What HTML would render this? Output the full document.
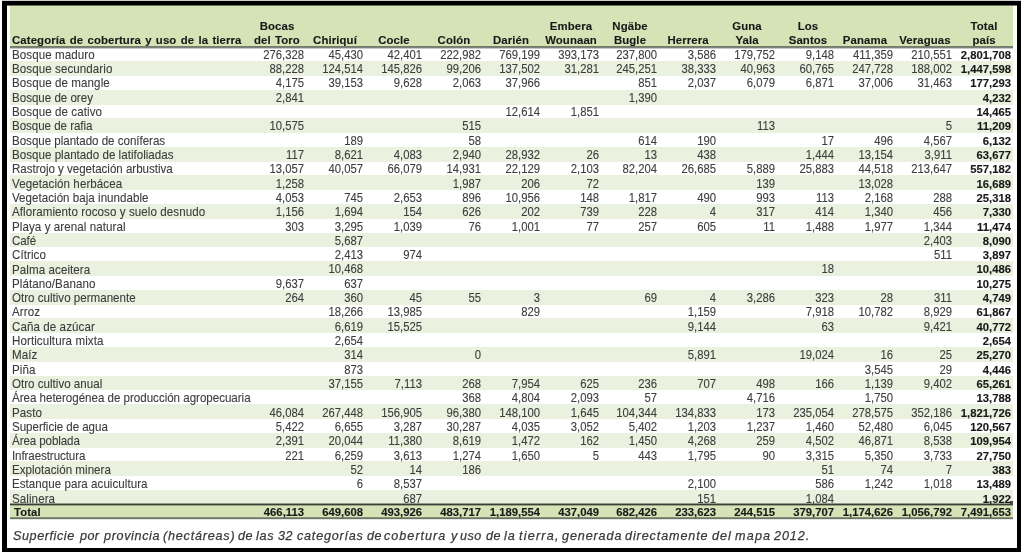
<!DOCTYPE html><html><head><meta charset="utf-8"><style>
html,body{margin:0;padding:0;background:#fff;}
body{width:1022px;height:552px;position:relative;overflow:hidden;font-family:"Liberation Sans",sans-serif;}
.a{position:absolute;}
.t{position:absolute;white-space:pre;will-change:transform;}
.r{color:#3d3d3d;-webkit-text-stroke:0.1px #3d3d3d;transform-origin:0 10.23px;transform:scaleY(1.06);}
.b{font-weight:bold;color:#181818;-webkit-text-stroke:0.12px #181818;transform-origin:0 10.32px;transform:scaleY(1.03);}
.R{width:200px;text-align:right;}
.C{width:200px;text-align:center;}
.h{word-spacing:1.0px;letter-spacing:0.1px;}
.L{letter-spacing:0.17px;}
</style></head><body>
<div class="a" style="left:2px;top:0;width:1019px;height:1px;background:#cfcfcf"></div>
<div class="a" style="left:2px;top:1px;width:1019px;height:4px;background:#000"></div>
<div class="a" style="left:7px;top:5px;width:1010px;height:1px;background:#6a7060"></div>
<div class="a" style="left:2px;top:1px;width:5px;height:551px;background:#000"></div>
<div class="a" style="left:1017px;top:1px;width:4px;height:551px;background:#000"></div>
<div class="a" style="left:2px;top:548px;width:1019px;height:4px;background:#000"></div>
<div class="a" style="left:10px;top:6px;width:1003.1px;height:41px;background:#d5e3b6"></div>
<div class="a" style="left:10px;top:61.14px;width:1003.1px;height:14.84px;background:#eaf1de"></div>
<div class="a" style="left:10px;top:89.72px;width:1003.1px;height:14.84px;background:#eaf1de"></div>
<div class="a" style="left:10px;top:118.30px;width:1003.1px;height:14.84px;background:#eaf1de"></div>
<div class="a" style="left:10px;top:146.88px;width:1003.1px;height:14.84px;background:#eaf1de"></div>
<div class="a" style="left:10px;top:175.46px;width:1003.1px;height:14.84px;background:#eaf1de"></div>
<div class="a" style="left:10px;top:204.04px;width:1003.1px;height:14.84px;background:#eaf1de"></div>
<div class="a" style="left:10px;top:232.62px;width:1003.1px;height:14.84px;background:#eaf1de"></div>
<div class="a" style="left:10px;top:261.20px;width:1003.1px;height:14.84px;background:#eaf1de"></div>
<div class="a" style="left:10px;top:289.78px;width:1003.1px;height:14.84px;background:#eaf1de"></div>
<div class="a" style="left:10px;top:318.36px;width:1003.1px;height:14.84px;background:#eaf1de"></div>
<div class="a" style="left:10px;top:346.94px;width:1003.1px;height:14.84px;background:#eaf1de"></div>
<div class="a" style="left:10px;top:375.52px;width:1003.1px;height:14.84px;background:#eaf1de"></div>
<div class="a" style="left:10px;top:404.10px;width:1003.1px;height:14.84px;background:#eaf1de"></div>
<div class="a" style="left:10px;top:432.68px;width:1003.1px;height:14.84px;background:#eaf1de"></div>
<div class="a" style="left:10px;top:461.26px;width:1003.1px;height:14.84px;background:#eaf1de"></div>
<div class="a" style="left:10px;top:489.84px;width:1003.1px;height:14.84px;background:#eaf1de"></div>
<div class="a" style="left:10px;top:46px;width:1003.1px;height:1px;background:#737c66"></div>
<div class="a" style="left:10px;top:47px;width:1003.1px;height:1px;background:#7e807a"></div>
<div class="a" style="left:10px;top:48px;width:1003.1px;height:0.5px;background:#c8c8c8"></div>
<div class="a" style="left:10px;top:505px;width:1003.1px;height:13.3px;background:#d5e3b6"></div>
<div class="a" style="left:10px;top:503px;width:1003.1px;height:1px;background:#959a8a"></div>
<div class="a" style="left:10px;top:504px;width:1003.1px;height:1px;background:#3a3f35"></div>
<div class="a" style="left:10px;top:505px;width:1003.1px;height:1px;background:#9aa487"></div>
<div class="a" style="left:10px;top:517px;width:1003.1px;height:1px;background:#88917a"></div>
<div class="a" style="left:10px;top:518px;width:1003.1px;height:1px;background:#6e7364"></div>
<div class="a" style="left:10px;top:519px;width:1003.1px;height:1px;background:#e4e4e2"></div>
<div class="a" style="left:1009.6px;top:500.6px;width:3.4px;height:4px;background:#4a4a4a"></div>
<div class="t b h" style="left:12.30px;top:34.28px;font-size:11.4px;line-height:13.099px;">Categoría de cobertura y uso de la tierra</div>
<div class="t b h C" style="left:177.30px;top:19.98px;font-size:11.4px;line-height:13.099px;">Bocas</div>
<div class="t b h C" style="left:177.30px;top:34.28px;font-size:11.4px;line-height:13.099px;">del Toro</div>
<div class="t b h C" style="left:234.76px;top:34.28px;font-size:11.4px;line-height:13.099px;">Chiriquí</div>
<div class="t b h C" style="left:293.92px;top:34.28px;font-size:11.4px;line-height:13.099px;">Cocle</div>
<div class="t b h C" style="left:353.88px;top:34.28px;font-size:11.4px;line-height:13.099px;">Colón</div>
<div class="t b h C" style="left:411.44px;top:34.28px;font-size:11.4px;line-height:13.099px;">Darién</div>
<div class="t b h C" style="left:471.00px;top:19.98px;font-size:11.4px;line-height:13.099px;">Embera</div>
<div class="t b h C" style="left:471.00px;top:34.28px;font-size:11.4px;line-height:13.099px;">Wounaan</div>
<div class="t b h C" style="left:529.86px;top:19.98px;font-size:11.4px;line-height:13.099px;">Ngäbe</div>
<div class="t b h C" style="left:529.86px;top:34.28px;font-size:11.4px;line-height:13.099px;">Bugle</div>
<div class="t b h C" style="left:587.52px;top:34.28px;font-size:11.4px;line-height:13.099px;">Herrera</div>
<div class="t b h C" style="left:646.78px;top:19.98px;font-size:11.4px;line-height:13.099px;">Guna</div>
<div class="t b h C" style="left:646.78px;top:34.28px;font-size:11.4px;line-height:13.099px;">Yala</div>
<div class="t b h C" style="left:707.74px;top:19.98px;font-size:11.4px;line-height:13.099px;">Los</div>
<div class="t b h C" style="left:707.74px;top:34.28px;font-size:11.4px;line-height:13.099px;">Santos</div>
<div class="t b h C" style="left:764.60px;top:34.28px;font-size:11.4px;line-height:13.099px;">Panama</div>
<div class="t b h C" style="left:824.96px;top:34.28px;font-size:11.4px;line-height:13.099px;">Veraguas</div>
<div class="t b h C" style="left:883.72px;top:19.98px;font-size:11.4px;line-height:13.099px;">Total</div>
<div class="t b h C" style="left:883.72px;top:34.28px;font-size:11.4px;line-height:13.099px;">país</div>
<div class="t r" style="left:12.30px;top:47.70px;font-size:11.6px;line-height:13.328px;letter-spacing:0.070px;transform:scaleY(1.03)">Bosque maduro</div>
<div class="t r R" style="left:104.30px;top:48.67px;font-size:11.3px;line-height:12.984px;">276,328</div>
<div class="t r R" style="left:163.16px;top:48.67px;font-size:11.3px;line-height:12.984px;">45,430</div>
<div class="t r R" style="left:222.02px;top:48.67px;font-size:11.3px;line-height:12.984px;">42,401</div>
<div class="t r R" style="left:280.88px;top:48.67px;font-size:11.3px;line-height:12.984px;">222,982</div>
<div class="t r R" style="left:339.74px;top:48.67px;font-size:11.3px;line-height:12.984px;">769,199</div>
<div class="t r R" style="left:398.60px;top:48.67px;font-size:11.3px;line-height:12.984px;">393,173</div>
<div class="t r R" style="left:457.46px;top:48.67px;font-size:11.3px;line-height:12.984px;">237,800</div>
<div class="t r R" style="left:516.32px;top:48.67px;font-size:11.3px;line-height:12.984px;">3,586</div>
<div class="t r R" style="left:575.18px;top:48.67px;font-size:11.3px;line-height:12.984px;">179,752</div>
<div class="t r R" style="left:634.04px;top:48.67px;font-size:11.3px;line-height:12.984px;">9,148</div>
<div class="t r R" style="left:692.90px;top:48.67px;font-size:11.3px;line-height:12.984px;">411,359</div>
<div class="t r R" style="left:751.76px;top:48.67px;font-size:11.3px;line-height:12.984px;">210,551</div>
<div class="t b R" style="left:810.62px;top:48.67px;font-size:11.3px;line-height:12.984px;">2,801,708</div>
<div class="t r" style="left:12.30px;top:62.02px;font-size:11.6px;line-height:13.328px;letter-spacing:0.070px;transform:scaleY(1.03)">Bosque secundario</div>
<div class="t r R" style="left:104.30px;top:62.99px;font-size:11.3px;line-height:12.984px;">88,228</div>
<div class="t r R" style="left:163.16px;top:62.99px;font-size:11.3px;line-height:12.984px;">124,514</div>
<div class="t r R" style="left:222.02px;top:62.99px;font-size:11.3px;line-height:12.984px;">145,826</div>
<div class="t r R" style="left:280.88px;top:62.99px;font-size:11.3px;line-height:12.984px;">99,206</div>
<div class="t r R" style="left:339.74px;top:62.99px;font-size:11.3px;line-height:12.984px;">137,502</div>
<div class="t r R" style="left:398.60px;top:62.99px;font-size:11.3px;line-height:12.984px;">31,281</div>
<div class="t r R" style="left:457.46px;top:62.99px;font-size:11.3px;line-height:12.984px;">245,251</div>
<div class="t r R" style="left:516.32px;top:62.99px;font-size:11.3px;line-height:12.984px;">38,333</div>
<div class="t r R" style="left:575.18px;top:62.99px;font-size:11.3px;line-height:12.984px;">40,963</div>
<div class="t r R" style="left:634.04px;top:62.99px;font-size:11.3px;line-height:12.984px;">60,765</div>
<div class="t r R" style="left:692.90px;top:62.99px;font-size:11.3px;line-height:12.984px;">247,728</div>
<div class="t r R" style="left:751.76px;top:62.99px;font-size:11.3px;line-height:12.984px;">188,002</div>
<div class="t b R" style="left:810.62px;top:62.99px;font-size:11.3px;line-height:12.984px;">1,447,598</div>
<div class="t r" style="left:12.30px;top:76.34px;font-size:11.6px;line-height:13.328px;letter-spacing:0.070px;transform:scaleY(1.03)">Bosque de mangle</div>
<div class="t r R" style="left:104.30px;top:77.31px;font-size:11.3px;line-height:12.984px;">4,175</div>
<div class="t r R" style="left:163.16px;top:77.31px;font-size:11.3px;line-height:12.984px;">39,153</div>
<div class="t r R" style="left:222.02px;top:77.31px;font-size:11.3px;line-height:12.984px;">9,628</div>
<div class="t r R" style="left:280.88px;top:77.31px;font-size:11.3px;line-height:12.984px;">2,063</div>
<div class="t r R" style="left:339.74px;top:77.31px;font-size:11.3px;line-height:12.984px;">37,966</div>
<div class="t r R" style="left:457.46px;top:77.31px;font-size:11.3px;line-height:12.984px;">851</div>
<div class="t r R" style="left:516.32px;top:77.31px;font-size:11.3px;line-height:12.984px;">2,037</div>
<div class="t r R" style="left:575.18px;top:77.31px;font-size:11.3px;line-height:12.984px;">6,079</div>
<div class="t r R" style="left:634.04px;top:77.31px;font-size:11.3px;line-height:12.984px;">6,871</div>
<div class="t r R" style="left:692.90px;top:77.31px;font-size:11.3px;line-height:12.984px;">37,006</div>
<div class="t r R" style="left:751.76px;top:77.31px;font-size:11.3px;line-height:12.984px;">31,463</div>
<div class="t b R" style="left:810.62px;top:77.31px;font-size:11.3px;line-height:12.984px;">177,293</div>
<div class="t r" style="left:12.30px;top:90.66px;font-size:11.6px;line-height:13.328px;letter-spacing:-0.022px;transform:scaleY(1.03)">Bosque de orey</div>
<div class="t r R" style="left:104.30px;top:91.63px;font-size:11.3px;line-height:12.984px;">2,841</div>
<div class="t r R" style="left:457.46px;top:91.63px;font-size:11.3px;line-height:12.984px;">1,390</div>
<div class="t b R" style="left:810.62px;top:91.63px;font-size:11.3px;line-height:12.984px;">4,232</div>
<div class="t r" style="left:12.30px;top:104.98px;font-size:11.6px;line-height:13.328px;letter-spacing:0.070px;transform:scaleY(1.03)">Bosque de cativo</div>
<div class="t r R" style="left:339.74px;top:105.95px;font-size:11.3px;line-height:12.984px;">12,614</div>
<div class="t r R" style="left:398.60px;top:105.95px;font-size:11.3px;line-height:12.984px;">1,851</div>
<div class="t b R" style="left:810.62px;top:105.95px;font-size:11.3px;line-height:12.984px;">14,465</div>
<div class="t r" style="left:12.30px;top:119.30px;font-size:11.6px;line-height:13.328px;letter-spacing:-0.051px;transform:scaleY(1.03)">Bosque de rafia</div>
<div class="t r R" style="left:104.30px;top:120.27px;font-size:11.3px;line-height:12.984px;">10,575</div>
<div class="t r R" style="left:280.88px;top:120.27px;font-size:11.3px;line-height:12.984px;">515</div>
<div class="t r R" style="left:575.18px;top:120.27px;font-size:11.3px;line-height:12.984px;">113</div>
<div class="t r R" style="left:751.76px;top:120.27px;font-size:11.3px;line-height:12.984px;">5</div>
<div class="t b R" style="left:810.62px;top:120.27px;font-size:11.3px;line-height:12.984px;">11,209</div>
<div class="t r" style="left:12.30px;top:133.62px;font-size:11.6px;line-height:13.328px;letter-spacing:-0.034px;transform:scaleY(1.03)">Bosque plantado de coníferas</div>
<div class="t r R" style="left:163.16px;top:134.59px;font-size:11.3px;line-height:12.984px;">189</div>
<div class="t r R" style="left:280.88px;top:134.59px;font-size:11.3px;line-height:12.984px;">58</div>
<div class="t r R" style="left:457.46px;top:134.59px;font-size:11.3px;line-height:12.984px;">614</div>
<div class="t r R" style="left:516.32px;top:134.59px;font-size:11.3px;line-height:12.984px;">190</div>
<div class="t r R" style="left:634.04px;top:134.59px;font-size:11.3px;line-height:12.984px;">17</div>
<div class="t r R" style="left:692.90px;top:134.59px;font-size:11.3px;line-height:12.984px;">496</div>
<div class="t r R" style="left:751.76px;top:134.59px;font-size:11.3px;line-height:12.984px;">4,567</div>
<div class="t b R" style="left:810.62px;top:134.59px;font-size:11.3px;line-height:12.984px;">6,132</div>
<div class="t r" style="left:12.30px;top:147.94px;font-size:11.6px;line-height:13.328px;letter-spacing:0.013px;transform:scaleY(1.03)">Bosque plantado de latifoliadas</div>
<div class="t r R" style="left:104.30px;top:148.91px;font-size:11.3px;line-height:12.984px;">117</div>
<div class="t r R" style="left:163.16px;top:148.91px;font-size:11.3px;line-height:12.984px;">8,621</div>
<div class="t r R" style="left:222.02px;top:148.91px;font-size:11.3px;line-height:12.984px;">4,083</div>
<div class="t r R" style="left:280.88px;top:148.91px;font-size:11.3px;line-height:12.984px;">2,940</div>
<div class="t r R" style="left:339.74px;top:148.91px;font-size:11.3px;line-height:12.984px;">28,932</div>
<div class="t r R" style="left:398.60px;top:148.91px;font-size:11.3px;line-height:12.984px;">26</div>
<div class="t r R" style="left:457.46px;top:148.91px;font-size:11.3px;line-height:12.984px;">13</div>
<div class="t r R" style="left:516.32px;top:148.91px;font-size:11.3px;line-height:12.984px;">438</div>
<div class="t r R" style="left:634.04px;top:148.91px;font-size:11.3px;line-height:12.984px;">1,444</div>
<div class="t r R" style="left:692.90px;top:148.91px;font-size:11.3px;line-height:12.984px;">13,154</div>
<div class="t r R" style="left:751.76px;top:148.91px;font-size:11.3px;line-height:12.984px;">3,911</div>
<div class="t b R" style="left:810.62px;top:148.91px;font-size:11.3px;line-height:12.984px;">63,677</div>
<div class="t r" style="left:12.30px;top:162.26px;font-size:11.6px;line-height:13.328px;letter-spacing:-0.037px;transform:scaleY(1.03)">Rastrojo y vegetación arbustiva</div>
<div class="t r R" style="left:104.30px;top:163.23px;font-size:11.3px;line-height:12.984px;">13,057</div>
<div class="t r R" style="left:163.16px;top:163.23px;font-size:11.3px;line-height:12.984px;">40,057</div>
<div class="t r R" style="left:222.02px;top:163.23px;font-size:11.3px;line-height:12.984px;">66,079</div>
<div class="t r R" style="left:280.88px;top:163.23px;font-size:11.3px;line-height:12.984px;">14,931</div>
<div class="t r R" style="left:339.74px;top:163.23px;font-size:11.3px;line-height:12.984px;">22,129</div>
<div class="t r R" style="left:398.60px;top:163.23px;font-size:11.3px;line-height:12.984px;">2,103</div>
<div class="t r R" style="left:457.46px;top:163.23px;font-size:11.3px;line-height:12.984px;">82,204</div>
<div class="t r R" style="left:516.32px;top:163.23px;font-size:11.3px;line-height:12.984px;">26,685</div>
<div class="t r R" style="left:575.18px;top:163.23px;font-size:11.3px;line-height:12.984px;">5,889</div>
<div class="t r R" style="left:634.04px;top:163.23px;font-size:11.3px;line-height:12.984px;">25,883</div>
<div class="t r R" style="left:692.90px;top:163.23px;font-size:11.3px;line-height:12.984px;">44,518</div>
<div class="t r R" style="left:751.76px;top:163.23px;font-size:11.3px;line-height:12.984px;">213,647</div>
<div class="t b R" style="left:810.62px;top:163.23px;font-size:11.3px;line-height:12.984px;">557,182</div>
<div class="t r" style="left:12.30px;top:176.58px;font-size:11.6px;line-height:13.328px;letter-spacing:0.070px;transform:scaleY(1.03)">Vegetación herbácea</div>
<div class="t r R" style="left:104.30px;top:177.55px;font-size:11.3px;line-height:12.984px;">1,258</div>
<div class="t r R" style="left:280.88px;top:177.55px;font-size:11.3px;line-height:12.984px;">1,987</div>
<div class="t r R" style="left:339.74px;top:177.55px;font-size:11.3px;line-height:12.984px;">206</div>
<div class="t r R" style="left:398.60px;top:177.55px;font-size:11.3px;line-height:12.984px;">72</div>
<div class="t r R" style="left:575.18px;top:177.55px;font-size:11.3px;line-height:12.984px;">139</div>
<div class="t r R" style="left:692.90px;top:177.55px;font-size:11.3px;line-height:12.984px;">13,028</div>
<div class="t b R" style="left:810.62px;top:177.55px;font-size:11.3px;line-height:12.984px;">16,689</div>
<div class="t r" style="left:12.30px;top:190.90px;font-size:11.6px;line-height:13.328px;letter-spacing:0.020px;transform:scaleY(1.03)">Vegetación baja inundable</div>
<div class="t r R" style="left:104.30px;top:191.87px;font-size:11.3px;line-height:12.984px;">4,053</div>
<div class="t r R" style="left:163.16px;top:191.87px;font-size:11.3px;line-height:12.984px;">745</div>
<div class="t r R" style="left:222.02px;top:191.87px;font-size:11.3px;line-height:12.984px;">2,653</div>
<div class="t r R" style="left:280.88px;top:191.87px;font-size:11.3px;line-height:12.984px;">896</div>
<div class="t r R" style="left:339.74px;top:191.87px;font-size:11.3px;line-height:12.984px;">10,956</div>
<div class="t r R" style="left:398.60px;top:191.87px;font-size:11.3px;line-height:12.984px;">148</div>
<div class="t r R" style="left:457.46px;top:191.87px;font-size:11.3px;line-height:12.984px;">1,817</div>
<div class="t r R" style="left:516.32px;top:191.87px;font-size:11.3px;line-height:12.984px;">490</div>
<div class="t r R" style="left:575.18px;top:191.87px;font-size:11.3px;line-height:12.984px;">993</div>
<div class="t r R" style="left:634.04px;top:191.87px;font-size:11.3px;line-height:12.984px;">113</div>
<div class="t r R" style="left:692.90px;top:191.87px;font-size:11.3px;line-height:12.984px;">2,168</div>
<div class="t r R" style="left:751.76px;top:191.87px;font-size:11.3px;line-height:12.984px;">288</div>
<div class="t b R" style="left:810.62px;top:191.87px;font-size:11.3px;line-height:12.984px;">25,318</div>
<div class="t r" style="left:12.30px;top:205.22px;font-size:11.6px;line-height:13.328px;letter-spacing:0.070px;transform:scaleY(1.03)">Afloramiento rocoso y suelo desnudo</div>
<div class="t r R" style="left:104.30px;top:206.19px;font-size:11.3px;line-height:12.984px;">1,156</div>
<div class="t r R" style="left:163.16px;top:206.19px;font-size:11.3px;line-height:12.984px;">1,694</div>
<div class="t r R" style="left:222.02px;top:206.19px;font-size:11.3px;line-height:12.984px;">154</div>
<div class="t r R" style="left:280.88px;top:206.19px;font-size:11.3px;line-height:12.984px;">626</div>
<div class="t r R" style="left:339.74px;top:206.19px;font-size:11.3px;line-height:12.984px;">202</div>
<div class="t r R" style="left:398.60px;top:206.19px;font-size:11.3px;line-height:12.984px;">739</div>
<div class="t r R" style="left:457.46px;top:206.19px;font-size:11.3px;line-height:12.984px;">228</div>
<div class="t r R" style="left:516.32px;top:206.19px;font-size:11.3px;line-height:12.984px;">4</div>
<div class="t r R" style="left:575.18px;top:206.19px;font-size:11.3px;line-height:12.984px;">317</div>
<div class="t r R" style="left:634.04px;top:206.19px;font-size:11.3px;line-height:12.984px;">414</div>
<div class="t r R" style="left:692.90px;top:206.19px;font-size:11.3px;line-height:12.984px;">1,340</div>
<div class="t r R" style="left:751.76px;top:206.19px;font-size:11.3px;line-height:12.984px;">456</div>
<div class="t b R" style="left:810.62px;top:206.19px;font-size:11.3px;line-height:12.984px;">7,330</div>
<div class="t r" style="left:12.30px;top:219.54px;font-size:11.6px;line-height:13.328px;letter-spacing:0.070px;transform:scaleY(1.03)">Playa y arenal natural</div>
<div class="t r R" style="left:104.30px;top:220.51px;font-size:11.3px;line-height:12.984px;">303</div>
<div class="t r R" style="left:163.16px;top:220.51px;font-size:11.3px;line-height:12.984px;">3,295</div>
<div class="t r R" style="left:222.02px;top:220.51px;font-size:11.3px;line-height:12.984px;">1,039</div>
<div class="t r R" style="left:280.88px;top:220.51px;font-size:11.3px;line-height:12.984px;">76</div>
<div class="t r R" style="left:339.74px;top:220.51px;font-size:11.3px;line-height:12.984px;">1,001</div>
<div class="t r R" style="left:398.60px;top:220.51px;font-size:11.3px;line-height:12.984px;">77</div>
<div class="t r R" style="left:457.46px;top:220.51px;font-size:11.3px;line-height:12.984px;">257</div>
<div class="t r R" style="left:516.32px;top:220.51px;font-size:11.3px;line-height:12.984px;">605</div>
<div class="t r R" style="left:575.18px;top:220.51px;font-size:11.3px;line-height:12.984px;">11</div>
<div class="t r R" style="left:634.04px;top:220.51px;font-size:11.3px;line-height:12.984px;">1,488</div>
<div class="t r R" style="left:692.90px;top:220.51px;font-size:11.3px;line-height:12.984px;">1,977</div>
<div class="t r R" style="left:751.76px;top:220.51px;font-size:11.3px;line-height:12.984px;">1,344</div>
<div class="t b R" style="left:810.62px;top:220.51px;font-size:11.3px;line-height:12.984px;">11,474</div>
<div class="t r" style="left:12.30px;top:233.86px;font-size:11.6px;line-height:13.328px;letter-spacing:-0.100px;transform:scaleY(1.03)">Café</div>
<div class="t r R" style="left:163.16px;top:234.83px;font-size:11.3px;line-height:12.984px;">5,687</div>
<div class="t r R" style="left:751.76px;top:234.83px;font-size:11.3px;line-height:12.984px;">2,403</div>
<div class="t b R" style="left:810.62px;top:234.83px;font-size:11.3px;line-height:12.984px;">8,090</div>
<div class="t r" style="left:12.30px;top:248.18px;font-size:11.6px;line-height:13.328px;letter-spacing:0.070px;transform:scaleY(1.03)">Cítrico</div>
<div class="t r R" style="left:163.16px;top:249.15px;font-size:11.3px;line-height:12.984px;">2,413</div>
<div class="t r R" style="left:222.02px;top:249.15px;font-size:11.3px;line-height:12.984px;">974</div>
<div class="t r R" style="left:751.76px;top:249.15px;font-size:11.3px;line-height:12.984px;">511</div>
<div class="t b R" style="left:810.62px;top:249.15px;font-size:11.3px;line-height:12.984px;">3,897</div>
<div class="t r" style="left:12.30px;top:262.50px;font-size:11.6px;line-height:13.328px;letter-spacing:0.070px;transform:scaleY(1.03)">Palma aceitera</div>
<div class="t r R" style="left:163.16px;top:263.47px;font-size:11.3px;line-height:12.984px;">10,468</div>
<div class="t r R" style="left:634.04px;top:263.47px;font-size:11.3px;line-height:12.984px;">18</div>
<div class="t b R" style="left:810.62px;top:263.47px;font-size:11.3px;line-height:12.984px;">10,486</div>
<div class="t r" style="left:12.30px;top:276.82px;font-size:11.6px;line-height:13.328px;letter-spacing:0.070px;transform:scaleY(1.03)">Plátano/Banano</div>
<div class="t r R" style="left:104.30px;top:277.79px;font-size:11.3px;line-height:12.984px;">9,637</div>
<div class="t r R" style="left:163.16px;top:277.79px;font-size:11.3px;line-height:12.984px;">637</div>
<div class="t b R" style="left:810.62px;top:277.79px;font-size:11.3px;line-height:12.984px;">10,275</div>
<div class="t r" style="left:12.30px;top:291.14px;font-size:11.6px;line-height:13.328px;letter-spacing:-0.003px;transform:scaleY(1.03)">Otro cultivo permanente</div>
<div class="t r R" style="left:104.30px;top:292.11px;font-size:11.3px;line-height:12.984px;">264</div>
<div class="t r R" style="left:163.16px;top:292.11px;font-size:11.3px;line-height:12.984px;">360</div>
<div class="t r R" style="left:222.02px;top:292.11px;font-size:11.3px;line-height:12.984px;">45</div>
<div class="t r R" style="left:280.88px;top:292.11px;font-size:11.3px;line-height:12.984px;">55</div>
<div class="t r R" style="left:339.74px;top:292.11px;font-size:11.3px;line-height:12.984px;">3</div>
<div class="t r R" style="left:457.46px;top:292.11px;font-size:11.3px;line-height:12.984px;">69</div>
<div class="t r R" style="left:516.32px;top:292.11px;font-size:11.3px;line-height:12.984px;">4</div>
<div class="t r R" style="left:575.18px;top:292.11px;font-size:11.3px;line-height:12.984px;">3,286</div>
<div class="t r R" style="left:634.04px;top:292.11px;font-size:11.3px;line-height:12.984px;">323</div>
<div class="t r R" style="left:692.90px;top:292.11px;font-size:11.3px;line-height:12.984px;">28</div>
<div class="t r R" style="left:751.76px;top:292.11px;font-size:11.3px;line-height:12.984px;">311</div>
<div class="t b R" style="left:810.62px;top:292.11px;font-size:11.3px;line-height:12.984px;">4,749</div>
<div class="t r" style="left:12.30px;top:305.46px;font-size:11.6px;line-height:13.328px;letter-spacing:0.070px;transform:scaleY(1.03)">Arroz</div>
<div class="t r R" style="left:163.16px;top:306.43px;font-size:11.3px;line-height:12.984px;">18,266</div>
<div class="t r R" style="left:222.02px;top:306.43px;font-size:11.3px;line-height:12.984px;">13,985</div>
<div class="t r R" style="left:339.74px;top:306.43px;font-size:11.3px;line-height:12.984px;">829</div>
<div class="t r R" style="left:516.32px;top:306.43px;font-size:11.3px;line-height:12.984px;">1,159</div>
<div class="t r R" style="left:634.04px;top:306.43px;font-size:11.3px;line-height:12.984px;">7,918</div>
<div class="t r R" style="left:692.90px;top:306.43px;font-size:11.3px;line-height:12.984px;">10,782</div>
<div class="t r R" style="left:751.76px;top:306.43px;font-size:11.3px;line-height:12.984px;">8,929</div>
<div class="t b R" style="left:810.62px;top:306.43px;font-size:11.3px;line-height:12.984px;">61,867</div>
<div class="t r" style="left:12.30px;top:319.78px;font-size:11.6px;line-height:13.328px;letter-spacing:0.070px;transform:scaleY(1.03)">Caña de azúcar</div>
<div class="t r R" style="left:163.16px;top:320.75px;font-size:11.3px;line-height:12.984px;">6,619</div>
<div class="t r R" style="left:222.02px;top:320.75px;font-size:11.3px;line-height:12.984px;">15,525</div>
<div class="t r R" style="left:516.32px;top:320.75px;font-size:11.3px;line-height:12.984px;">9,144</div>
<div class="t r R" style="left:634.04px;top:320.75px;font-size:11.3px;line-height:12.984px;">63</div>
<div class="t r R" style="left:751.76px;top:320.75px;font-size:11.3px;line-height:12.984px;">9,421</div>
<div class="t b R" style="left:810.62px;top:320.75px;font-size:11.3px;line-height:12.984px;">40,772</div>
<div class="t r" style="left:12.30px;top:334.10px;font-size:11.6px;line-height:13.328px;letter-spacing:0.070px;transform:scaleY(1.03)">Horticultura mixta</div>
<div class="t r R" style="left:163.16px;top:335.07px;font-size:11.3px;line-height:12.984px;">2,654</div>
<div class="t b R" style="left:810.62px;top:335.07px;font-size:11.3px;line-height:12.984px;">2,654</div>
<div class="t r" style="left:12.30px;top:348.42px;font-size:11.6px;line-height:13.328px;letter-spacing:0.070px;transform:scaleY(1.03)">Maíz</div>
<div class="t r R" style="left:163.16px;top:349.39px;font-size:11.3px;line-height:12.984px;">314</div>
<div class="t r R" style="left:280.88px;top:349.39px;font-size:11.3px;line-height:12.984px;">0</div>
<div class="t r R" style="left:516.32px;top:349.39px;font-size:11.3px;line-height:12.984px;">5,891</div>
<div class="t r R" style="left:634.04px;top:349.39px;font-size:11.3px;line-height:12.984px;">19,024</div>
<div class="t r R" style="left:692.90px;top:349.39px;font-size:11.3px;line-height:12.984px;">16</div>
<div class="t r R" style="left:751.76px;top:349.39px;font-size:11.3px;line-height:12.984px;">25</div>
<div class="t b R" style="left:810.62px;top:349.39px;font-size:11.3px;line-height:12.984px;">25,270</div>
<div class="t r" style="left:12.30px;top:362.74px;font-size:11.6px;line-height:13.328px;letter-spacing:0.070px;transform:scaleY(1.03)">Piña</div>
<div class="t r R" style="left:163.16px;top:363.71px;font-size:11.3px;line-height:12.984px;">873</div>
<div class="t r R" style="left:692.90px;top:363.71px;font-size:11.3px;line-height:12.984px;">3,545</div>
<div class="t r R" style="left:751.76px;top:363.71px;font-size:11.3px;line-height:12.984px;">29</div>
<div class="t b R" style="left:810.62px;top:363.71px;font-size:11.3px;line-height:12.984px;">4,446</div>
<div class="t r" style="left:12.30px;top:377.06px;font-size:11.6px;line-height:13.328px;letter-spacing:-0.001px;transform:scaleY(1.03)">Otro cultivo anual</div>
<div class="t r R" style="left:163.16px;top:378.03px;font-size:11.3px;line-height:12.984px;">37,155</div>
<div class="t r R" style="left:222.02px;top:378.03px;font-size:11.3px;line-height:12.984px;">7,113</div>
<div class="t r R" style="left:280.88px;top:378.03px;font-size:11.3px;line-height:12.984px;">268</div>
<div class="t r R" style="left:339.74px;top:378.03px;font-size:11.3px;line-height:12.984px;">7,954</div>
<div class="t r R" style="left:398.60px;top:378.03px;font-size:11.3px;line-height:12.984px;">625</div>
<div class="t r R" style="left:457.46px;top:378.03px;font-size:11.3px;line-height:12.984px;">236</div>
<div class="t r R" style="left:516.32px;top:378.03px;font-size:11.3px;line-height:12.984px;">707</div>
<div class="t r R" style="left:575.18px;top:378.03px;font-size:11.3px;line-height:12.984px;">498</div>
<div class="t r R" style="left:634.04px;top:378.03px;font-size:11.3px;line-height:12.984px;">166</div>
<div class="t r R" style="left:692.90px;top:378.03px;font-size:11.3px;line-height:12.984px;">1,139</div>
<div class="t r R" style="left:751.76px;top:378.03px;font-size:11.3px;line-height:12.984px;">9,402</div>
<div class="t b R" style="left:810.62px;top:378.03px;font-size:11.3px;line-height:12.984px;">65,261</div>
<div class="t r" style="left:12.30px;top:391.38px;font-size:11.6px;line-height:13.328px;letter-spacing:-0.028px;transform:scaleY(1.03)">Área heterogénea de producción agropecuaria</div>
<div class="t r R" style="left:280.88px;top:392.35px;font-size:11.3px;line-height:12.984px;">368</div>
<div class="t r R" style="left:339.74px;top:392.35px;font-size:11.3px;line-height:12.984px;">4,804</div>
<div class="t r R" style="left:398.60px;top:392.35px;font-size:11.3px;line-height:12.984px;">2,093</div>
<div class="t r R" style="left:457.46px;top:392.35px;font-size:11.3px;line-height:12.984px;">57</div>
<div class="t r R" style="left:575.18px;top:392.35px;font-size:11.3px;line-height:12.984px;">4,716</div>
<div class="t r R" style="left:692.90px;top:392.35px;font-size:11.3px;line-height:12.984px;">1,750</div>
<div class="t b R" style="left:810.62px;top:392.35px;font-size:11.3px;line-height:12.984px;">13,788</div>
<div class="t r" style="left:12.30px;top:405.70px;font-size:11.6px;line-height:13.328px;letter-spacing:0.070px;transform:scaleY(1.03)">Pasto</div>
<div class="t r R" style="left:104.30px;top:406.67px;font-size:11.3px;line-height:12.984px;">46,084</div>
<div class="t r R" style="left:163.16px;top:406.67px;font-size:11.3px;line-height:12.984px;">267,448</div>
<div class="t r R" style="left:222.02px;top:406.67px;font-size:11.3px;line-height:12.984px;">156,905</div>
<div class="t r R" style="left:280.88px;top:406.67px;font-size:11.3px;line-height:12.984px;">96,380</div>
<div class="t r R" style="left:339.74px;top:406.67px;font-size:11.3px;line-height:12.984px;">148,100</div>
<div class="t r R" style="left:398.60px;top:406.67px;font-size:11.3px;line-height:12.984px;">1,645</div>
<div class="t r R" style="left:457.46px;top:406.67px;font-size:11.3px;line-height:12.984px;">104,344</div>
<div class="t r R" style="left:516.32px;top:406.67px;font-size:11.3px;line-height:12.984px;">134,833</div>
<div class="t r R" style="left:575.18px;top:406.67px;font-size:11.3px;line-height:12.984px;">173</div>
<div class="t r R" style="left:634.04px;top:406.67px;font-size:11.3px;line-height:12.984px;">235,054</div>
<div class="t r R" style="left:692.90px;top:406.67px;font-size:11.3px;line-height:12.984px;">278,575</div>
<div class="t r R" style="left:751.76px;top:406.67px;font-size:11.3px;line-height:12.984px;">352,186</div>
<div class="t b R" style="left:810.62px;top:406.67px;font-size:11.3px;line-height:12.984px;">1,821,726</div>
<div class="t r" style="left:12.30px;top:420.02px;font-size:11.6px;line-height:13.328px;letter-spacing:-0.048px;transform:scaleY(1.03)">Superficie de agua</div>
<div class="t r R" style="left:104.30px;top:420.99px;font-size:11.3px;line-height:12.984px;">5,422</div>
<div class="t r R" style="left:163.16px;top:420.99px;font-size:11.3px;line-height:12.984px;">6,655</div>
<div class="t r R" style="left:222.02px;top:420.99px;font-size:11.3px;line-height:12.984px;">3,287</div>
<div class="t r R" style="left:280.88px;top:420.99px;font-size:11.3px;line-height:12.984px;">30,287</div>
<div class="t r R" style="left:339.74px;top:420.99px;font-size:11.3px;line-height:12.984px;">4,035</div>
<div class="t r R" style="left:398.60px;top:420.99px;font-size:11.3px;line-height:12.984px;">3,052</div>
<div class="t r R" style="left:457.46px;top:420.99px;font-size:11.3px;line-height:12.984px;">5,402</div>
<div class="t r R" style="left:516.32px;top:420.99px;font-size:11.3px;line-height:12.984px;">1,203</div>
<div class="t r R" style="left:575.18px;top:420.99px;font-size:11.3px;line-height:12.984px;">1,237</div>
<div class="t r R" style="left:634.04px;top:420.99px;font-size:11.3px;line-height:12.984px;">1,460</div>
<div class="t r R" style="left:692.90px;top:420.99px;font-size:11.3px;line-height:12.984px;">52,480</div>
<div class="t r R" style="left:751.76px;top:420.99px;font-size:11.3px;line-height:12.984px;">6,045</div>
<div class="t b R" style="left:810.62px;top:420.99px;font-size:11.3px;line-height:12.984px;">120,567</div>
<div class="t r" style="left:12.30px;top:434.34px;font-size:11.6px;line-height:13.328px;letter-spacing:-0.100px;transform:scaleY(1.03)">Área poblada</div>
<div class="t r R" style="left:104.30px;top:435.31px;font-size:11.3px;line-height:12.984px;">2,391</div>
<div class="t r R" style="left:163.16px;top:435.31px;font-size:11.3px;line-height:12.984px;">20,044</div>
<div class="t r R" style="left:222.02px;top:435.31px;font-size:11.3px;line-height:12.984px;">11,380</div>
<div class="t r R" style="left:280.88px;top:435.31px;font-size:11.3px;line-height:12.984px;">8,619</div>
<div class="t r R" style="left:339.74px;top:435.31px;font-size:11.3px;line-height:12.984px;">1,472</div>
<div class="t r R" style="left:398.60px;top:435.31px;font-size:11.3px;line-height:12.984px;">162</div>
<div class="t r R" style="left:457.46px;top:435.31px;font-size:11.3px;line-height:12.984px;">1,450</div>
<div class="t r R" style="left:516.32px;top:435.31px;font-size:11.3px;line-height:12.984px;">4,268</div>
<div class="t r R" style="left:575.18px;top:435.31px;font-size:11.3px;line-height:12.984px;">259</div>
<div class="t r R" style="left:634.04px;top:435.31px;font-size:11.3px;line-height:12.984px;">4,502</div>
<div class="t r R" style="left:692.90px;top:435.31px;font-size:11.3px;line-height:12.984px;">46,871</div>
<div class="t r R" style="left:751.76px;top:435.31px;font-size:11.3px;line-height:12.984px;">8,538</div>
<div class="t b R" style="left:810.62px;top:435.31px;font-size:11.3px;line-height:12.984px;">109,954</div>
<div class="t r" style="left:12.30px;top:448.66px;font-size:11.6px;line-height:13.328px;letter-spacing:-0.100px;transform:scaleY(1.03)">Infraestructura</div>
<div class="t r R" style="left:104.30px;top:449.63px;font-size:11.3px;line-height:12.984px;">221</div>
<div class="t r R" style="left:163.16px;top:449.63px;font-size:11.3px;line-height:12.984px;">6,259</div>
<div class="t r R" style="left:222.02px;top:449.63px;font-size:11.3px;line-height:12.984px;">3,613</div>
<div class="t r R" style="left:280.88px;top:449.63px;font-size:11.3px;line-height:12.984px;">1,274</div>
<div class="t r R" style="left:339.74px;top:449.63px;font-size:11.3px;line-height:12.984px;">1,650</div>
<div class="t r R" style="left:398.60px;top:449.63px;font-size:11.3px;line-height:12.984px;">5</div>
<div class="t r R" style="left:457.46px;top:449.63px;font-size:11.3px;line-height:12.984px;">443</div>
<div class="t r R" style="left:516.32px;top:449.63px;font-size:11.3px;line-height:12.984px;">1,795</div>
<div class="t r R" style="left:575.18px;top:449.63px;font-size:11.3px;line-height:12.984px;">90</div>
<div class="t r R" style="left:634.04px;top:449.63px;font-size:11.3px;line-height:12.984px;">3,315</div>
<div class="t r R" style="left:692.90px;top:449.63px;font-size:11.3px;line-height:12.984px;">5,350</div>
<div class="t r R" style="left:751.76px;top:449.63px;font-size:11.3px;line-height:12.984px;">3,733</div>
<div class="t b R" style="left:810.62px;top:449.63px;font-size:11.3px;line-height:12.984px;">27,750</div>
<div class="t r" style="left:12.30px;top:462.98px;font-size:11.6px;line-height:13.328px;letter-spacing:0.017px;transform:scaleY(1.03)">Explotación minera</div>
<div class="t r R" style="left:163.16px;top:463.95px;font-size:11.3px;line-height:12.984px;">52</div>
<div class="t r R" style="left:222.02px;top:463.95px;font-size:11.3px;line-height:12.984px;">14</div>
<div class="t r R" style="left:280.88px;top:463.95px;font-size:11.3px;line-height:12.984px;">186</div>
<div class="t r R" style="left:634.04px;top:463.95px;font-size:11.3px;line-height:12.984px;">51</div>
<div class="t r R" style="left:692.90px;top:463.95px;font-size:11.3px;line-height:12.984px;">74</div>
<div class="t r R" style="left:751.76px;top:463.95px;font-size:11.3px;line-height:12.984px;">7</div>
<div class="t b R" style="left:810.62px;top:463.95px;font-size:11.3px;line-height:12.984px;">383</div>
<div class="t r" style="left:12.30px;top:477.30px;font-size:11.6px;line-height:13.328px;letter-spacing:0.032px;transform:scaleY(1.03)">Estanque para acuicultura</div>
<div class="t r R" style="left:163.16px;top:478.27px;font-size:11.3px;line-height:12.984px;">6</div>
<div class="t r R" style="left:222.02px;top:478.27px;font-size:11.3px;line-height:12.984px;">8,537</div>
<div class="t r R" style="left:516.32px;top:478.27px;font-size:11.3px;line-height:12.984px;">2,100</div>
<div class="t r R" style="left:634.04px;top:478.27px;font-size:11.3px;line-height:12.984px;">586</div>
<div class="t r R" style="left:692.90px;top:478.27px;font-size:11.3px;line-height:12.984px;">1,242</div>
<div class="t r R" style="left:751.76px;top:478.27px;font-size:11.3px;line-height:12.984px;">1,018</div>
<div class="t b R" style="left:810.62px;top:478.27px;font-size:11.3px;line-height:12.984px;">13,489</div>
<div class="t r" style="left:12.30px;top:491.62px;font-size:11.6px;line-height:13.328px;letter-spacing:0.070px;transform:scaleY(1.03)">Salinera</div>
<div class="t r R" style="left:222.02px;top:492.59px;font-size:11.3px;line-height:12.984px;">687</div>
<div class="t r R" style="left:516.32px;top:492.59px;font-size:11.3px;line-height:12.984px;">151</div>
<div class="t r R" style="left:634.04px;top:492.59px;font-size:11.3px;line-height:12.984px;">1,084</div>
<div class="t b R" style="left:810.62px;top:492.59px;font-size:11.3px;line-height:12.984px;">1,922</div>
<div class="t b" style="left:13.80px;top:506.07px;font-size:11.3px;line-height:12.984px;letter-spacing:0.1px">Total</div>
<div class="t b R" style="left:104.30px;top:506.07px;font-size:11.3px;line-height:12.984px;">466,113</div>
<div class="t b R" style="left:163.16px;top:506.07px;font-size:11.3px;line-height:12.984px;">649,608</div>
<div class="t b R" style="left:222.02px;top:506.07px;font-size:11.3px;line-height:12.984px;">493,926</div>
<div class="t b R" style="left:280.88px;top:506.07px;font-size:11.3px;line-height:12.984px;">483,717</div>
<div class="t b R" style="left:339.74px;top:506.07px;font-size:11.3px;line-height:12.984px;">1,189,554</div>
<div class="t b R" style="left:398.60px;top:506.07px;font-size:11.3px;line-height:12.984px;">437,049</div>
<div class="t b R" style="left:457.46px;top:506.07px;font-size:11.3px;line-height:12.984px;">682,426</div>
<div class="t b R" style="left:516.32px;top:506.07px;font-size:11.3px;line-height:12.984px;">233,623</div>
<div class="t b R" style="left:575.18px;top:506.07px;font-size:11.3px;line-height:12.984px;">244,515</div>
<div class="t b R" style="left:634.04px;top:506.07px;font-size:11.3px;line-height:12.984px;">379,707</div>
<div class="t b R" style="left:692.90px;top:506.07px;font-size:11.3px;line-height:12.984px;">1,174,626</div>
<div class="t b R" style="left:751.76px;top:506.07px;font-size:11.3px;line-height:12.984px;">1,056,792</div>
<div class="t b R" style="left:810.62px;top:506.07px;font-size:11.3px;line-height:12.984px;">7,491,653</div>
<style>.c{font-style:italic;color:#3a3a3a;letter-spacing:0.68px;-webkit-text-stroke:0.25px #3a3a3a;}</style>
<div class="t c" style="left:13.40px;top:528.80px;font-size:12.6px;line-height:14.477px;letter-spacing:0.58px">Superficie</div>
<div class="t c" style="left:79.50px;top:528.80px;font-size:12.6px;line-height:14.477px;letter-spacing:0.4px">por</div>
<div class="t c" style="left:103.60px;top:528.80px;font-size:12.6px;line-height:14.477px;letter-spacing:0.642px">provincia</div>
<div class="t c" style="left:163.30px;top:528.80px;font-size:12.6px;line-height:14.477px;letter-spacing:0.79px">(hectáreas)</div>
<div class="t c" style="left:238.40px;top:528.80px;font-size:12.6px;line-height:14.477px;letter-spacing:0.5px">de</div>
<div class="t c" style="left:256.40px;top:528.80px;font-size:12.6px;line-height:14.477px;letter-spacing:0.68px">las</div>
<div class="t c" style="left:278.40px;top:528.80px;font-size:12.6px;line-height:14.477px;letter-spacing:0.5px">32</div>
<div class="t c" style="left:296.90px;top:528.80px;font-size:12.6px;line-height:14.477px;letter-spacing:0.78px">categorías</div>
<div class="t c" style="left:366.80px;top:528.80px;font-size:12.6px;line-height:14.477px;letter-spacing:0.5px">de</div>
<div class="t c" style="left:384.20px;top:528.80px;font-size:12.6px;line-height:14.477px;letter-spacing:1.017px">cobertura</div>
<div class="t c" style="left:450.90px;top:528.80px;font-size:12.6px;line-height:14.477px;letter-spacing:0.6px">y</div>
<div class="t c" style="left:460.20px;top:528.80px;font-size:12.6px;line-height:14.477px;letter-spacing:0.53px">uso</div>
<div class="t c" style="left:485.90px;top:528.80px;font-size:12.6px;line-height:14.477px;letter-spacing:0.5px">de</div>
<div class="t c" style="left:504.40px;top:528.80px;font-size:12.6px;line-height:14.477px;letter-spacing:1.0px">la</div>
<div class="t c" style="left:518.80px;top:528.80px;font-size:12.6px;line-height:14.477px;letter-spacing:1.2px">tierra,</div>
<div class="t c" style="left:561.90px;top:528.80px;font-size:12.6px;line-height:14.477px;letter-spacing:0.88px">generada</div>
<div class="t c" style="left:625.30px;top:528.80px;font-size:12.6px;line-height:14.477px;letter-spacing:0.889px">directamente</div>
<div class="t c" style="left:711.60px;top:528.80px;font-size:12.6px;line-height:14.477px;letter-spacing:0.98px">del</div>
<div class="t c" style="left:735.20px;top:528.80px;font-size:12.6px;line-height:14.477px;letter-spacing:1.2px">mapa</div>
<div class="t c" style="left:774.20px;top:528.80px;font-size:12.6px;line-height:14.477px;letter-spacing:0.905px">2012.</div>
</body></html>
